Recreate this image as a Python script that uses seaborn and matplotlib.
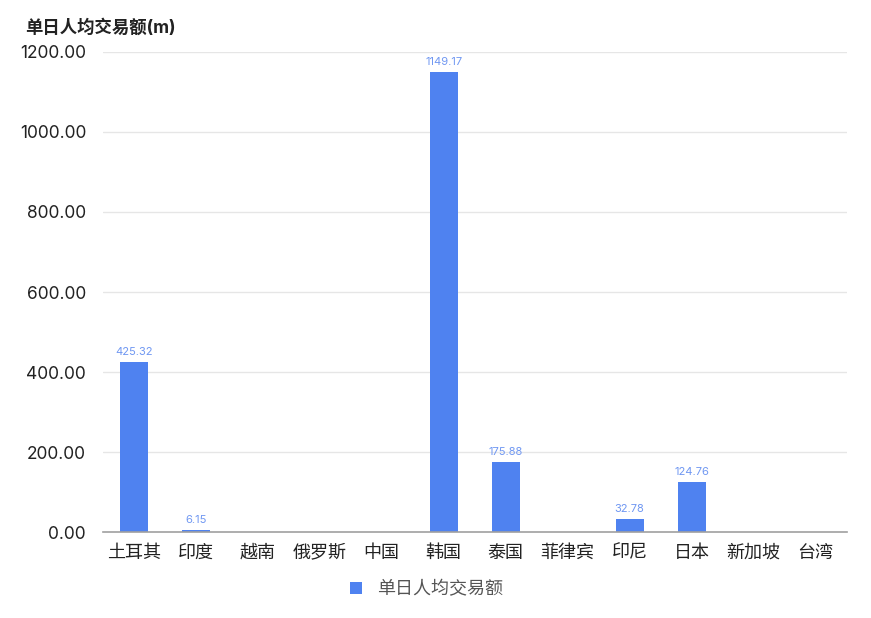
import pandas as pd
import seaborn as sns
import matplotlib.pyplot as plt


# Data
countries = ["土耳其", "印度", "越南", "俄罗斯", "中国", "韩国", "泰国", "菲律宾", "印尼", "日本", "新加坡", "台湾"]
amounts = [425.32, 6.15, None, None, None, 1149.17, 175.88, None, 32.78, 124.76, None, None]
series_name = "单日人均交易额"
y_ticks = [0, 200, 400, 600, 800, 1000, 1200]

df = pd.DataFrame({"country": countries, "amount": amounts, "series": series_name})

sns.set_theme(style="white")
plt.rcParams["font.family"] = ["Inter", "Noto Sans CJK SC", "DejaVu Sans"]

bar_color = "#4f82f0"

fig = plt.figure(figsize=(8.71, 6.18), dpi=100)
ax = fig.add_axes([0.118, 0.139, 0.854, 0.777])

sns.barplot(data=df, x="country", y="amount", hue="series", palette=[bar_color],
            width=0.45, saturation=1, linewidth=0, ax=ax, legend=True)

# value labels above the bars
for i, v in enumerate(amounts):
    if v is not None:
        ax.text(i, v + 12, f"{v:.2f}", ha="center", va="bottom", fontsize=8, color="#6f97f2")

ax.set_ylim(0, 1200)
ax.set_xlim(-0.5, len(countries) - 0.5)
ax.set_yticks(y_ticks)
ax.set_yticklabels([f"{t:.2f}" for t in y_ticks], fontsize=12.5, color="#222222")
ax.tick_params(axis="x", labelsize=13, colors="#222222", length=0, pad=9)
ax.tick_params(axis="y", length=0, pad=12)
ax.grid(axis="y", color="#e6e6e6", linewidth=1)
ax.set_axisbelow(True)
ax.set_xlabel("")
ax.set_ylabel("")

for side in ["top", "right", "left"]:
    ax.spines[side].set_visible(False)
ax.spines["bottom"].set_color("#a0a0a0")
ax.spines["bottom"].set_linewidth(1.2)

fig.text(0.029, 0.955, "单日人均交易额(m)", fontsize=12.5, fontweight="bold", color="#222222", va="center")

ax.legend(loc="center", bbox_to_anchor=(0.435, -0.12), frameon=False, fontsize=13,
          handlelength=0.7, handleheight=0.7, labelcolor="#555555")

fig.savefig("out.png", dpi=100)
